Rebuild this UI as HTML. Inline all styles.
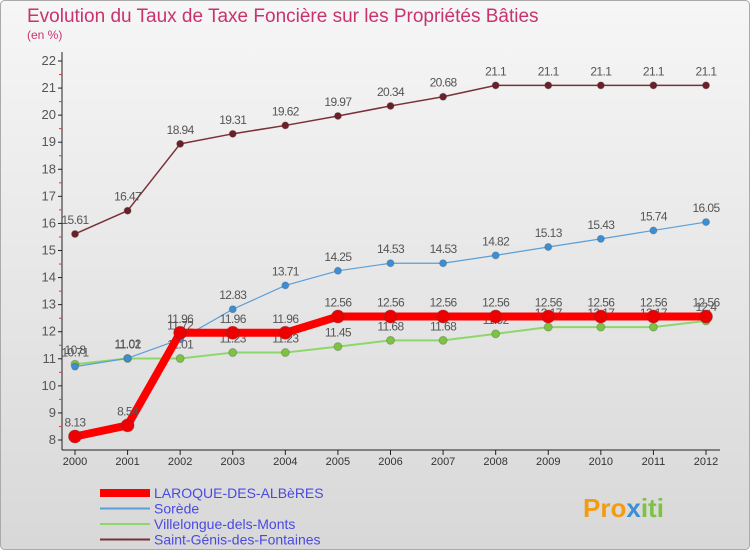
<!DOCTYPE html>
<html><head><meta charset="utf-8"><style>
body{margin:0;width:750px;height:550px;overflow:hidden;font-family:"Liberation Sans",sans-serif}
svg{display:block}
</style></head><body>
<svg width="750" height="550">
<defs><linearGradient id="bg" x1="0" y1="0" x2="0" y2="1"><stop offset="0" stop-color="#f6f6f6"/><stop offset="1" stop-color="#d8d8d8"/></linearGradient></defs>
<rect x="0.5" y="0.5" width="749" height="549" rx="4" fill="url(#bg)" stroke="#aaa"/>
<text x="27" y="22" font-size="19" fill="#c8336e">Evolution du Taux de Taxe Foncière sur les Propriétés Bâties</text>
<text x="27" y="39" font-size="12" fill="#c8336e">(en %)</text>
<g id="axes"></g><g id="series"></g><g id="legend"></g>
<text x="583" y="517" font-size="26" font-weight="bold" fill="#f39c12">Pro<tspan fill="#3a8fd6">x</tspan><tspan fill="#7cc243">iti</tspan></text>
</svg>
<script>
const years=[2000,2001,2002,2003,2004,2005,2006,2007,2008,2009,2010,2011,2012];
const yTicks=[8,9,10,11,12,13,14,15,16,17,18,19,20,21,22];
const laroque=[8.13,8.54,11.96,11.96,11.96,12.56,12.56,12.56,12.56,12.56,12.56,12.56,12.56];
const sorede=[10.71,11.02,11.72,12.83,13.71,14.25,14.53,14.53,14.82,15.13,15.43,15.74,16.05];
const villelongue=[10.8,11.01,11.01,11.23,11.23,11.45,11.68,11.68,11.92,12.17,12.17,12.17,12.4];
const stgenis=[15.61,16.47,18.94,19.31,19.62,19.97,20.34,20.68,21.1,21.1,21.1,21.1,21.1];
const names=["LAROQUE-DES-ALBèRES","Sorède","Villelongue-dels-Monts","Saint-Génis-des-Fontaines"];
const NS="http://www.w3.org/2000/svg";
const X=i=>75+i*(706-75)/(years.length-1);
const Y=v=>440-(v-8)*(440-61)/14;
function mk(t,a,p){const e=document.createElementNS(NS,t);for(const k in a)e.setAttribute(k,a[k]);p.appendChild(e);return e;}
const ax=document.getElementById('axes');
let l=mk('line',{x1:62,y1:52,x2:62,y2:450,stroke:'#222'},ax);


l=mk('line',{x1:62,y1:450,x2:720,y2:450,stroke:'#222'},ax);


yTicks.forEach(v=>{
 mk('line',{x1:58,y1:Y(v),x2:62,y2:Y(v),stroke:'#222'},ax);
 if(v<22)mk('line',{x1:59,y1:Y(v+0.5),x2:62,y2:Y(v+0.5),stroke:'#e33'},ax);
 const t=mk('text',{x:56,y:Y(v)+4,'font-size':13,fill:'#555','text-anchor':'end'},ax);t.textContent=v;
 
 
});
years.forEach((y,i)=>{
 mk('line',{x1:X(i),y1:450,x2:X(i),y2:455,stroke:'#222'},ax);
 const t=mk('text',{x:X(i),y:465,'font-size':11,fill:'#333','text-anchor':'middle'},ax);t.textContent=y;
 
 
});
const sg=document.getElementById('series');
function series(data,color,w,r,name,dot){
 const g=mk('g',{},sg);
 
 
 mk('polyline',{points:data.map((v,i)=>X(i)+','+Y(v)).join(' '),fill:'none',stroke:color,'stroke-width':w,'stroke-linejoin':'round'},g);
 data.forEach((v,i)=>{
  const c=mk('circle',{cx:X(i),cy:Y(v),r:r,fill:dot,stroke:'#444','stroke-opacity':0.3},g);
  
  
  const t=mk('text',{x:X(i),y:Y(v)-10,'font-size':12,fill:'#555','text-anchor':'middle','letter-spacing':'-0.6'},g);t.textContent=v;
 });
}
series(villelongue,'#8fd66a',2,4,'villelongue-series','#7cc243');
series(sorede,'#5a9fd8',1.2,3.5,'sorede-series','#3a8fd6');
series(stgenis,'#7a3038',1.5,3.5,'stgenis-series','#6b1f28');
series(laroque,'#ff0000',8,6.5,'laroque-series','#ee0000');
const lg=document.getElementById('legend');
const cols=['#ff0000','#5a9fd8','#8fd66a','#7a3038'],ws=[8,2,2,2];
names.forEach((n,i)=>{
 const y=493+i*15.5;
 mk('line',{x1:100,y1:y,x2:150,y2:y,stroke:cols[i],'stroke-width':ws[i]},lg);
 const t=mk('text',{x:154,y:y+5,'font-size':14,fill:'#4a4ae0'},lg);t.textContent=n;
 
 
});
</script>
</body></html>
